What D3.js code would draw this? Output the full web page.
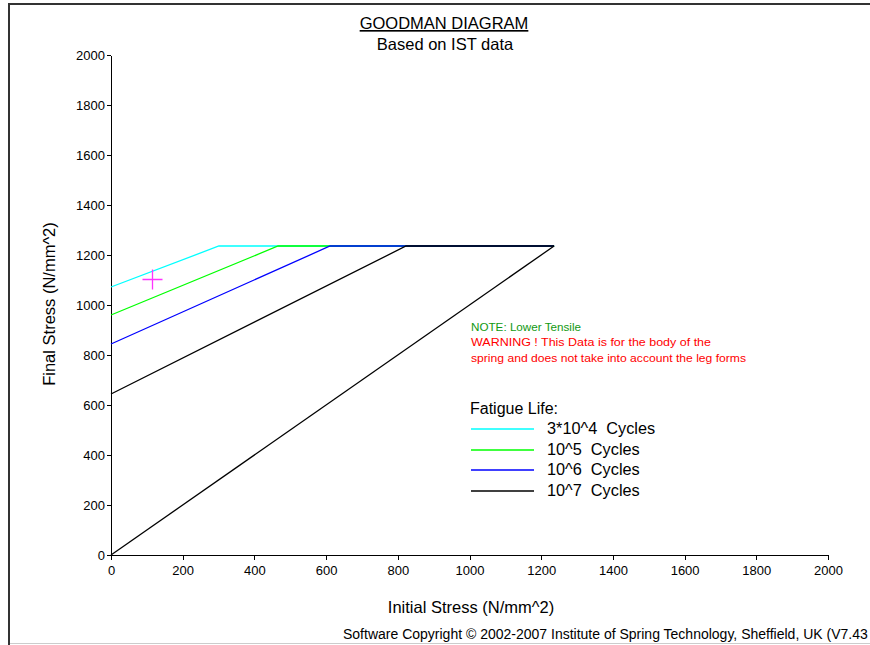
<!DOCTYPE html>
<html lang="en">
<head>
<meta charset="UTF-8">
<title>Goodman diagram</title>
<script src="https://d3js.org/d3.v7.min.js"></script>
<style>
  body { margin: 0; background: #fff; }
  svg { font-family: "Liberation Sans", Arial, sans-serif; }
  svg text { white-space: pre; }
  .axis text { font-size: 13px; fill: #000; }
  .axis path, .axis line { stroke: #000; shape-rendering: crispEdges; }
</style>
</head>
<body>
<svg id="chart" width="870" height="645"></svg>
<script>
// values (N/mm^2)
const seriesNames = ['3*10^4  Cycles', '10^5  Cycles', '10^6  Cycles', '10^7  Cycles'];
const seriesColors = ['#00ffff', '#00ff00', '#0000ff', '#000000'];
const startStress = [1072, 960, 844, 644];   // final stress at initial = 0
const bendStress = [301, 466, 611, 823];     // initial stress where line meets tensile cap
const capStress = 1236;                       // top limit
const marker = [113, 1103];
const xTicks = [0, 200, 400, 600, 800, 1000, 1200, 1400, 1600, 1800, 2000];
const yTicks = [0, 200, 400, 600, 800, 1000, 1200, 1400, 1600, 1800, 2000];

const svg = d3.select('#chart');

// frame
svg.append('line').attr('x1', 9).attr('y1', 4).attr('x2', 9).attr('y2', 645)
  .attr('stroke', '#333').attr('stroke-width', 2);
svg.append('line').attr('x1', 8).attr('y1', 4).attr('x2', 870).attr('y2', 4)
  .attr('stroke', '#333').attr('stroke-width', 2);
svg.append('line').attr('x1', 10).attr('y1', 643.5).attr('x2', 870).attr('y2', 643.5)
  .attr('stroke', '#ccc').attr('stroke-width', 1);

const x = d3.scaleLinear().domain([0, 2000]).range([111, 828]);
const y = d3.scaleLinear().domain([0, 2000]).range([555, 55]);

svg.append('g').attr('class', 'axis')
  .attr('transform', 'translate(0,555)')
  .call(d3.axisBottom(x).tickValues(xTicks).tickSize(5).tickSizeOuter(0).tickFormat(d3.format('d')))
  .call(g => g.selectAll('text').attr('dy', '0.9em'));

svg.append('g').attr('class', 'axis')
  .attr('transform', 'translate(111,0)')
  .call(d3.axisLeft(y).tickValues(yTicks).tickSize(4).tickSizeOuter(0).tickFormat(d3.format('d')))
  .call(g => g.selectAll('text').attr('x', -6));

// titles
svg.append('text').attr('x', 444).attr('y', 29).attr('text-anchor', 'middle')
  .attr('font-size', 16.5).attr('text-decoration', 'underline').text('GOODMAN DIAGRAM');
svg.append('text').attr('x', 445).attr('y', 50).attr('text-anchor', 'middle')
  .attr('font-size', 16.5).text('Based on IST data');
svg.append('text').attr('x', 471).attr('y', 613).attr('text-anchor', 'middle')
  .attr('font-size', 16.5).text('Initial Stress (N/mm^2)');
svg.append('text').attr('transform', 'translate(55,304) rotate(-90)').attr('text-anchor', 'middle')
  .attr('font-size', 16.5).text('Final Stress (N/mm^2)');
svg.append('text').attr('x', 343).attr('y', 639).attr('font-size', 14)
  .text('Software Copyright \u00a9 2002-2007 Institute of Spring Technology, Sheffield, UK (V7.43');

// lines
const line = d3.line().x(d => x(d[0])).y(d => y(d[1]));
seriesNames.forEach((name, i) => {
  svg.append('path')
    .attr('d', line([[0, startStress[i]], [bendStress[i], capStress], [capStress, capStress]]))
    .attr('fill', 'none').attr('stroke', seriesColors[i]).attr('stroke-width', 1.3);
});
svg.append('path').attr('d', line([[0, 0], [capStress, capStress]]))
  .attr('fill', 'none').attr('stroke', '#000').attr('stroke-width', 1.3);

// operating point
const mx = Math.round(x(marker[0])) + 0.5, my = Math.round(y(marker[1])) + 0.5;
svg.append('path').attr('d', `M${mx - 10},${my}H${mx + 10}M${mx},${my - 10}V${my + 10}`)
  .attr('stroke', '#ff33ff').attr('stroke-width', 1.3);

// notes
svg.append('text').attr('x', 471).attr('y', 331).attr('font-size', 11).attr('fill', '#119911')
  .attr('textLength', 110).attr('lengthAdjust', 'spacingAndGlyphs').text('NOTE: Lower Tensile');
svg.append('text').attr('x', 471).attr('y', 346).attr('font-size', 11).attr('fill', '#ff0000')
  .attr('textLength', 240).attr('lengthAdjust', 'spacingAndGlyphs').text('WARNING ! This Data is for the body of the');
svg.append('text').attr('x', 471).attr('y', 362).attr('font-size', 11).attr('fill', '#ff0000')
  .attr('textLength', 275).attr('lengthAdjust', 'spacingAndGlyphs').text('spring and does not take into account the leg forms');

// legend
svg.append('text').attr('x', 470).attr('y', 414).attr('font-size', 16).text('Fatigue Life:');
seriesNames.forEach((name, i) => {
  const ly = 429 + Math.round(i * 20.5);
  svg.append('line').attr('x1', 471).attr('x2', 534).attr('y1', ly).attr('y2', ly)
    .attr('stroke', seriesColors[i]).attr('stroke-width', 1.6);
  svg.append('text').attr('x', 547).attr('y', ly + 5).attr('font-size', 16.3).text(name);
});
</script>
</body>
</html>
